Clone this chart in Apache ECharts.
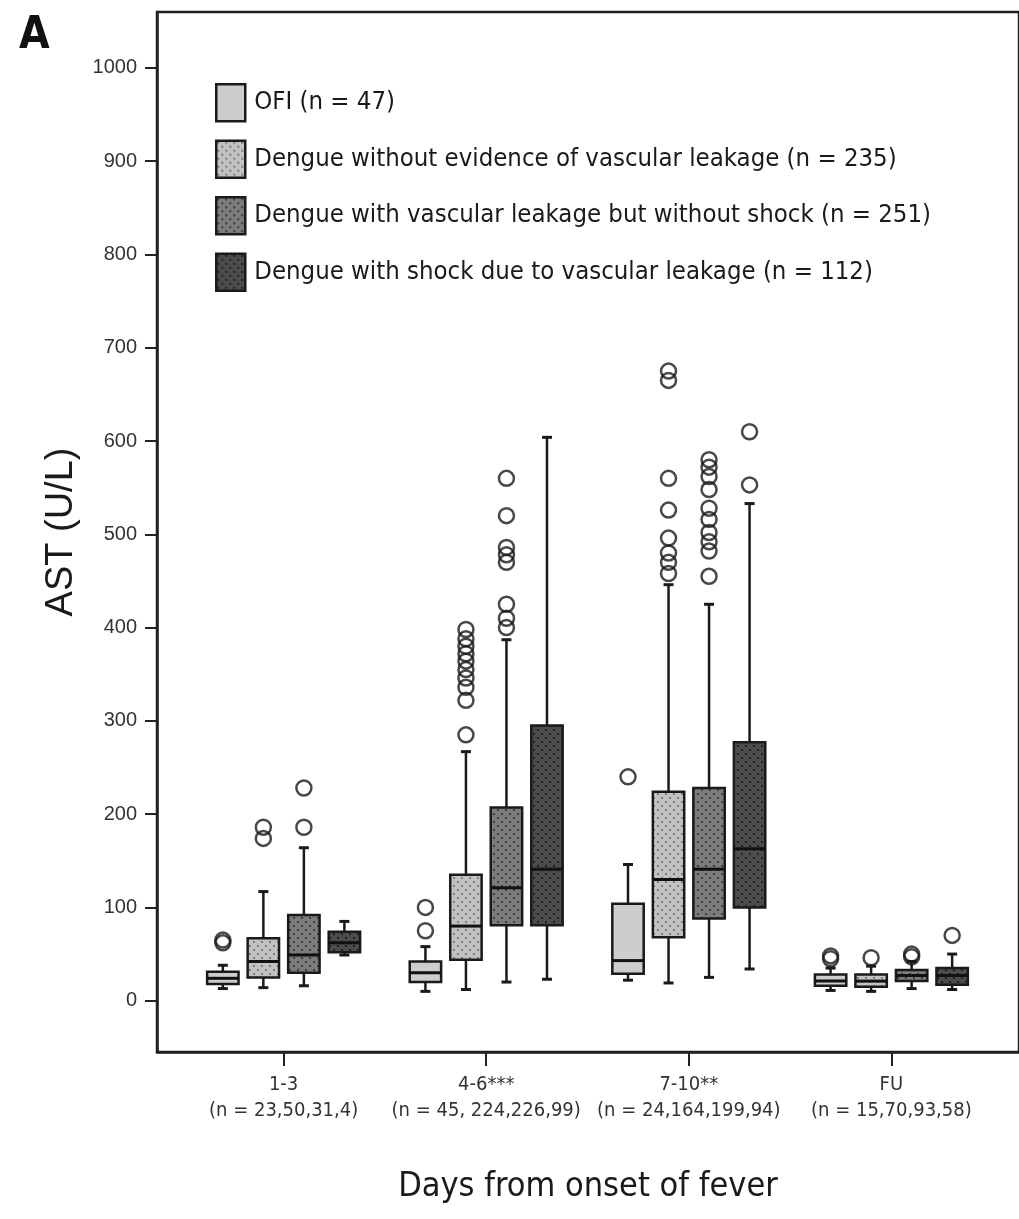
<!DOCTYPE html>
<html>
<head>
<meta charset="utf-8">
<script src="https://cdn.jsdelivr.net/npm/echarts@6/dist/echarts.min.js"></script>
<style>
  html, body { margin: 0; padding: 0; background: #fff; }
  #chart { width: 1019px; height: 1219px; }
</style>
</head>
<body>
<div id="chart"></div>
<script>
var categories = ['1-3', '4-6***', '7-10**', 'FU'];
var groupCounts = ['(n = 23,50,31,4)', '(n = 45, 224,226,99)', '(n = 24,164,199,94)', '(n = 15,70,93,58)'];
var groupNames = [
    'OFI (n = 47)',
    'Dengue without evidence of vascular leakage (n = 235)',
    'Dengue with vascular leakage but without shock (n = 251)',
    'Dengue with shock due to vascular leakage (n = 112)'
];
var yTicks = [0, 100, 200, 300, 400, 500, 600, 700, 800, 900, 1000];

// [min, Q1, median, Q3, max] for each day bin
var ofiBoxes = [[13, 18, 24, 31, 38], [10, 20, 30, 42, 58], [22, 29, 43, 104, 146], [11, 16, 21, 28, 35]];
var noLeakBoxes = [[14, 25, 42, 67, 117], [12, 44, 80, 135, 267], [19, 68, 130, 224, 446], [10, 15, 21, 28, 37]];
var leakBoxes = [[16, 30, 49, 92, 164], [20, 81, 121, 207, 387], [25, 88, 141, 228, 425], [13, 21, 27, 33, 42]];
var shockBoxes = [[49, 52, 62, 74, 85], [23, 81, 141, 295, 604], [34, 100, 163, 277, 533], [12, 17, 27, 35, 50]];

// [day bin index, value]
var ofiOutliers = [[0, 62], [0, 65], [1, 75], [1, 100], [2, 240], [3, 45], [3, 48]];
var noLeakOutliers = [[0, 174], [0, 186], [1, 285], [1, 322], [1, 336], [1, 346], [1, 355], [1, 364],
    [1, 372], [1, 380], [1, 388], [1, 398], [2, 458], [2, 470], [2, 480], [2, 496], [2, 526],
    [2, 560], [2, 665], [2, 675], [3, 46]];
var leakOutliers = [[0, 186], [0, 228], [1, 400], [1, 410], [1, 425], [1, 470], [1, 478], [1, 486],
    [1, 520], [1, 560], [2, 455], [2, 482], [2, 492], [2, 502], [2, 516], [2, 528], [2, 548],
    [2, 562], [2, 572], [2, 580], [3, 47], [3, 50]];
var shockOutliers = [[2, 553], [2, 610], [3, 70]];

var allBoxes = [ofiBoxes, noLeakBoxes, leakBoxes, shockBoxes];
var allOutliers = [ofiOutliers, noLeakOutliers, leakOutliers, shockOutliers];

function dots(bg, dot) {
    var c = document.createElement('canvas');
    c.width = 8; c.height = 8;
    var g = c.getContext('2d');
    g.fillStyle = bg; g.fillRect(0, 0, 8, 8);
    g.fillStyle = dot;
    g.fillRect(1, 1, 2, 2);
    g.fillRect(5, 5, 2, 2);
    return { image: c, repeat: 'repeat' };
}
var fills = [
    '#cdcdcd',
    dots('#c2c2c2', '#7d7d7d'),
    dots('#7c7c7c', '#3e3e3e'),
    dots('#4c4c4c', '#222')
];

var step = 0.2, boxW = 0.155;
function offset(s) { return (s - 1.5) * step; }

var chart = echarts.init(document.getElementById('chart'));
var font = "'Liberation Sans Narrow', 'DejaVu Sans Condensed', sans-serif";
var arial = "'Liberation Sans', Arial, sans-serif";
var series = [];

allBoxes.forEach(function (boxes, s) {
    series.push({
        name: groupNames[s],
        type: 'custom',
        itemStyle: { color: fills[s], borderColor: '#1a1a1a', borderWidth: 2.5 },
        data: boxes.map(function (b, i) { return [i].concat(b); }),
        encode: { x: 0, y: [1, 2, 3, 4, 5] },
        renderItem: function (params, api) {
            var x = api.value(0) + offset(s);
            var pMin = api.coord([x, api.value(1)]);
            var pQ1 = api.coord([x, api.value(2)]);
            var pMed = api.coord([x, api.value(3)]);
            var pQ3 = api.coord([x, api.value(4)]);
            var pMax = api.coord([x, api.value(5)]);
            var w = api.size([boxW, 0])[0];
            var cx = pQ1[0];
            var line = { stroke: '#1a1a1a', lineWidth: 2.5 };
            var cap = 5;
            return {
                type: 'group',
                children: [
                    { type: 'line', shape: { x1: cx, y1: pQ3[1], x2: cx, y2: pMax[1] }, style: line },
                    { type: 'line', shape: { x1: cx, y1: pQ1[1], x2: cx, y2: pMin[1] }, style: line },
                    { type: 'line', shape: { x1: cx - cap, y1: pMax[1], x2: cx + cap, y2: pMax[1] }, style: { stroke: '#1a1a1a', lineWidth: 3 } },
                    { type: 'line', shape: { x1: cx - cap, y1: pMin[1], x2: cx + cap, y2: pMin[1] }, style: { stroke: '#1a1a1a', lineWidth: 3 } },
                    { type: 'rect', shape: { x: cx - w / 2, y: pQ3[1], width: w, height: pQ1[1] - pQ3[1] },
                      style: { fill: fills[s], stroke: '#1a1a1a', lineWidth: 2.5 } },
                    { type: 'line', shape: { x1: cx - w / 2, y1: pMed[1], x2: cx + w / 2, y2: pMed[1] }, style: { stroke: '#111', lineWidth: 3 } }
                ]
            };
        }
    });
});

allOutliers.forEach(function (pts, s) {
    series.push({
        name: 'outliers ' + s,
        type: 'scatter',
        symbol: 'circle',
        symbolSize: 15,
        itemStyle: { color: 'rgba(255,255,255,0)', borderColor: '#1a1a1a', borderWidth: 2.5 },
        data: pts.map(function (p) { return [p[0] + offset(s), p[1]]; }),
        z: 3
    });
});

var option = {
    animation: false,
    title: {
        text: 'A', left: 14, top: 10,
        textStyle: { fontSize: 44, fontWeight: 'bold', color: '#111', fontFamily: font }
    },
    grid: { left: 157, top: 12, right: -12, bottom: 167, show: true, borderColor: '#222', borderWidth: 2.5 },
    legend: {
        data: groupNames,
        orient: 'vertical',
        left: 210, top: 78,
        itemWidth: 29, itemHeight: 37, itemGap: 17,
        icon: 'rect',
        itemStyle: { borderColor: '#1a1a1a', borderWidth: 2.5 },
        textStyle: { fontSize: 25.5, color: '#1a1a1a', fontFamily: font, padding: [0, 0, 0, 4] }
    },
    xAxis: {
        type: 'value',
        min: -0.625, max: 3.63,
        splitLine: { show: false },
        axisLine: { onZero: false, lineStyle: { color: '#222', width: 2.5 } },
        axisTick: { length: 14, customValues: [0, 1, 2, 3], lineStyle: { color: '#222', width: 2 } },
        axisLabel: {
            customValues: [0, 1, 2, 3],
            margin: 20,
            lineHeight: 26,
            fontSize: 20, color: '#333', fontFamily: font,
            formatter: function (v) { var i = Math.round(v); return categories[i] + '\n' + groupCounts[i]; }
        },
        name: 'Days from onset of fever',
        nameLocation: 'middle',
        nameGap: 118,
        nameTextStyle: { fontSize: 34, color: '#1a1a1a', fontFamily: font }
    },
    yAxis: {
        type: 'value',
        min: -55, max: 1060,
        splitLine: { show: false },
        axisLine: { show: true, onZero: false, lineStyle: { color: '#222', width: 2.5 } },
        axisTick: { show: true, length: 12, customValues: yTicks, lineStyle: { color: '#222', width: 2 } },
        axisLabel: {
            customValues: yTicks, margin: 20, fontSize: 20, color: '#333', fontFamily: arial,
            formatter: function (v) { return String(v); }
        },
        name: 'AST (U/L)',
        nameLocation: 'middle',
        nameGap: 76,
        nameTextStyle: { fontSize: 38, color: '#1a1a1a', fontFamily: arial }
    },
    series: series
};
chart.setOption(option);
</script>
</body>
</html>
